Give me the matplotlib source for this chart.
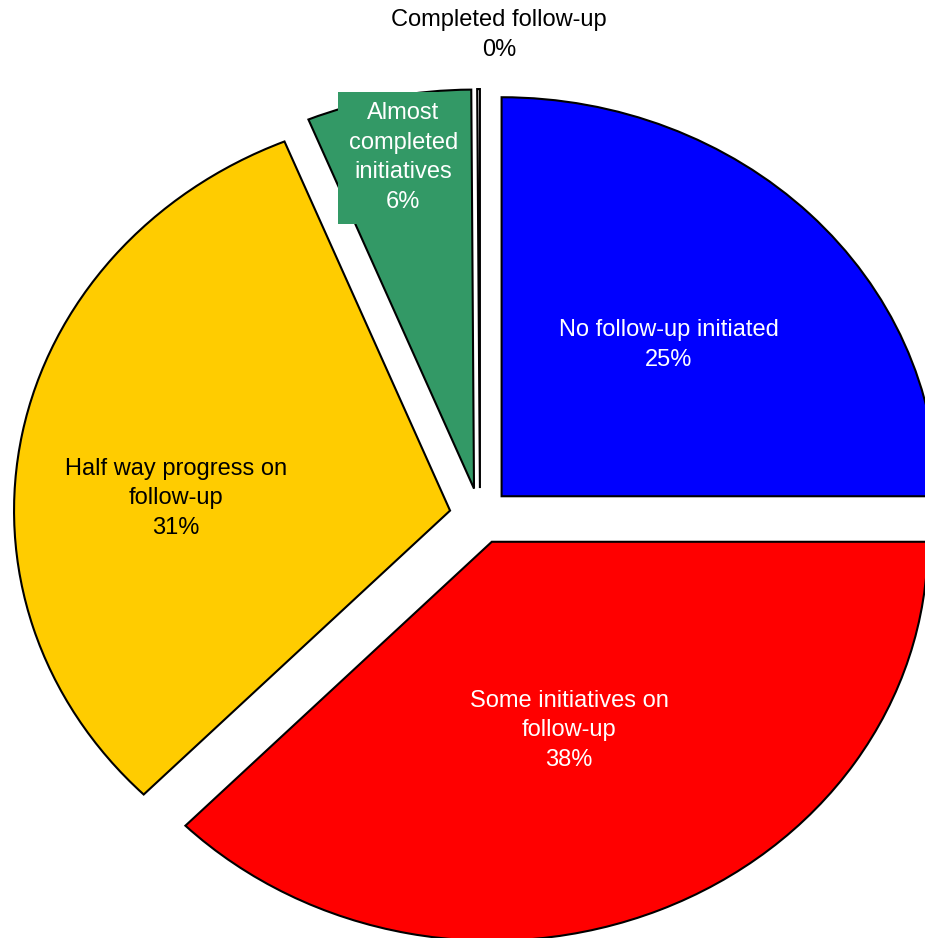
import matplotlib
matplotlib.use("Agg")
import matplotlib.pyplot as plt

# Data
categories = ["No follow-up initiated", "Some initiatives on\nfollow-up",
              "Half way progress on\nfollow-up", "Almost\ncompleted\ninitiatives",
              "Completed follow-up"]
values = [25.0, 37.4, 31.4, 6.1, 0.1]
pct_labels = ["25%", "38%", "31%", "6%", "0%"]
colors = ["#0000FF", "#FF0000", "#FFCC00", "#339966", "#FFFFFF"]
text_colors = ["white", "white", "black", "white", "black"]

# label positions in data units (pie radius = 1)
label_xy = [(0.433, 0.428), (0.204, -0.537), (-0.697, 0.045), (-0.176, 0.898), (0.044, 1.206)]

plt.rcParams['font.family'] = ['Liberation Sans', 'DejaVu Sans']

fig = plt.figure(figsize=(9.25, 9.38), dpi=100)
ax = fig.add_axes([0, 0, 1, 1])
wedges, _ = ax.pie(values, colors=colors, startangle=90, counterclock=False,
                   explode=[0.07] * len(values),
                   wedgeprops=dict(edgecolor="black", linewidth=1.5))
ax.set_aspect('auto')
ax.set_xlim(-1.1009, 1.0206)
ax.set_ylim(-1.0576, 1.2932)
ax.axis('off')

for i, (cat, pct) in enumerate(zip(categories, pct_labels)):
    x, y = label_xy[i]
    kw = {}
    if i == 3:
        kw['bbox'] = dict(boxstyle='square,pad=0.45', fc=colors[3], ec='none')
    ax.text(x, y, f"{cat}\n{pct}", ha='center', va='center', fontsize=17,
            color=text_colors[i], linespacing=1.44, zorder=5, **kw)

fig.savefig("out.png", dpi=100)
